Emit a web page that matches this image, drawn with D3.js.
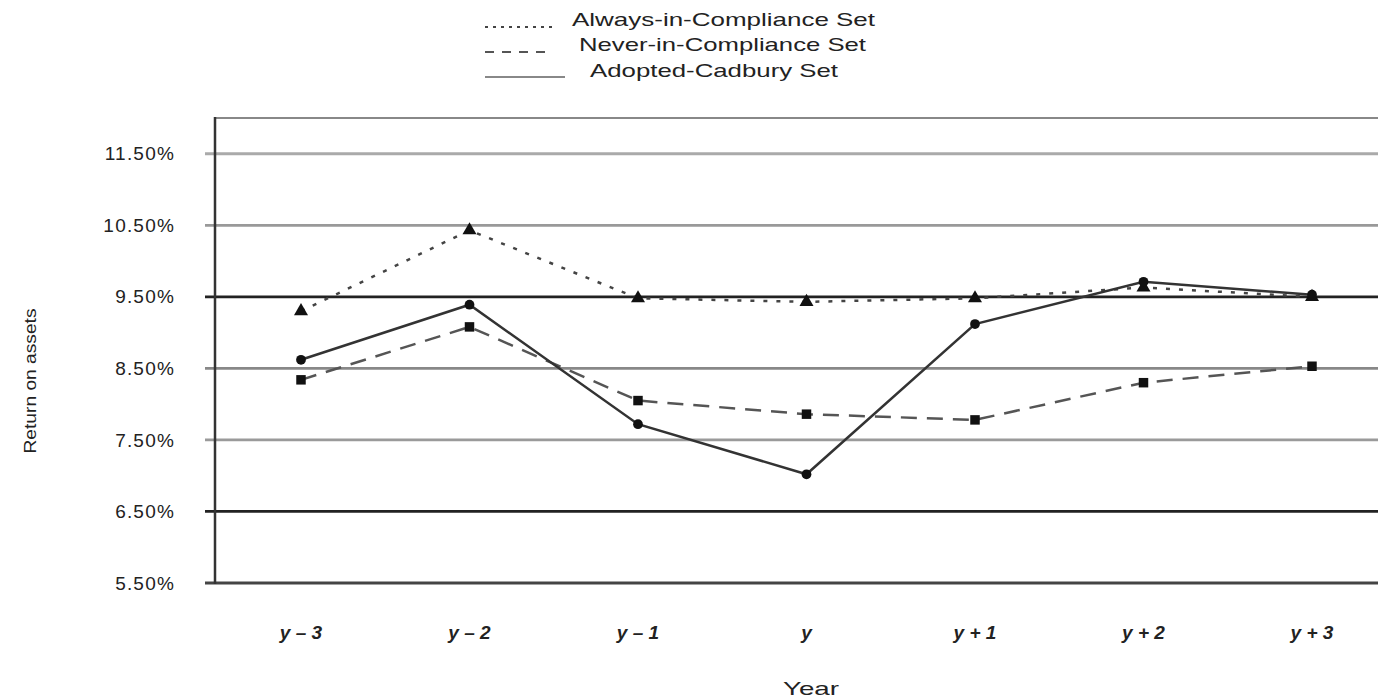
<!DOCTYPE html>
<html>
<head>
<meta charset="utf-8">
<script src="https://cdn.jsdelivr.net/npm/d3@7"></script>
<style>
  body { margin: 0; background: #fff; }
  svg text { font-family: "Liberation Sans", Arial, sans-serif; fill: #222; }
</style>
</head>
<body>
<div id="chart"></div>
<script>
const years = ["y – 3", "y – 2", "y – 1", "y", "y + 1", "y + 2", "y + 3"];
const yTicks = [5.5, 6.5, 7.5, 8.5, 9.5, 10.5, 11.5];
const alwaysSet = [9.30, 10.43, 9.48, 9.43, 9.48, 9.63, 9.50];
const neverSet = [8.34, 9.08, 8.05, 7.86, 7.78, 8.30, 8.53];
const adoptedSet = [8.62, 9.39, 7.72, 7.02, 9.12, 9.71, 9.53];
const seriesNames = ["Always-in-Compliance Set", "Never-in-Compliance Set", "Adopted-Cadbury Set"];

const width = 1378, height = 699;
const svg = d3.select("#chart").append("svg")
    .attr("width", width)
    .attr("height", height);

const x = d3.scalePoint().domain(years).range([301, 1312]);
const y = d3.scaleLinear().domain([5.5, 12]).range([583, 118]);
const axisX = 215;

// gridlines, alternating grey / black like the scan
const gridColor = { 11.5: "#aaa", 10.5: "#999", 9.5: "#222", 8.5: "#888", 7.5: "#9a9a9a", 6.5: "#222", 5.5: "#444" };
svg.append("g")
    .selectAll("line")
    .data(yTicks)
    .join("line")
    .attr("x1", axisX - 10)
    .attr("x2", width)
    .attr("y1", d => y(d))
    .attr("y2", d => y(d))
    .attr("stroke", d => gridColor[d])
    .attr("stroke-width", 2.8);

// top frame + left axis
svg.append("line")
    .attr("x1", axisX).attr("x2", width)
    .attr("y1", y(12)).attr("y2", y(12))
    .attr("stroke", "#888").attr("stroke-width", 2);
svg.append("line")
    .attr("x1", axisX).attr("x2", axisX)
    .attr("y1", y(12) - 1).attr("y2", y(5.5) + 1)
    .attr("stroke", "#333").attr("stroke-width", 2.5);

// y tick labels
const yAxis = d3.axisLeft(y).tickValues(yTicks).tickSize(0).tickPadding(40)
    .tickFormat(d => d3.format(".2f")(d) + "%");
svg.append("g")
    .attr("transform", `translate(${axisX},0)`)
    .call(yAxis)
    .call(g => g.select(".domain").remove())
    .selectAll("text")
    .style("font-family", "Liberation Sans, Arial, sans-serif")
    .style("font-size", "19px")
    .style("letter-spacing", "1.2px")
    .attr("fill", "#222");

// x tick labels
svg.append("g")
    .selectAll("text")
    .data(years)
    .join("text")
    .attr("x", d => x(d))
    .attr("y", 639)
    .attr("text-anchor", "middle")
    .style("font-size", "19px")
    .style("font-style", "italic")
    .style("font-weight", "bold")
    .attr("fill", "#333")
    .text(d => d);

// axis titles
svg.append("text")
    .attr("x", 811).attr("y", 695)
    .attr("text-anchor", "middle")
    .style("font-size", "19px")
    .attr("textLength", 56).attr("lengthAdjust", "spacingAndGlyphs")
    .text("Year");
svg.append("text")
    .attr("transform", "translate(36,381) rotate(-90)")
    .attr("text-anchor", "middle")
    .style("font-size", "17px")
    .attr("textLength", 145).attr("lengthAdjust", "spacingAndGlyphs")
    .text("Return on assets");

// series
const series = [
    { name: seriesNames[0], values: alwaysSet, dash: "4,9", color: "#444", symbol: d3.symbolTriangle, size: 85 },
    { name: seriesNames[1], values: neverSet, dash: "16,10", color: "#555", symbol: d3.symbolSquare, size: 90 },
    { name: seriesNames[2], values: adoptedSet, dash: null, color: "#333", symbol: d3.symbolCircle, size: 75 }
];

const line = d3.line()
    .x((d, i) => x(years[i]))
    .y(d => y(d));

series.forEach(s => {
    svg.append("path")
        .datum(s.values)
        .attr("fill", "none")
        .attr("stroke", s.color)
        .attr("stroke-width", 2.5)
        .attr("stroke-dasharray", s.dash)
        .attr("d", line);
    svg.append("g")
        .selectAll("path")
        .data(s.values)
        .join("path")
        .attr("transform", (d, i) => `translate(${x(years[i])},${y(d)})`)
        .attr("d", d3.symbol().type(s.symbol).size(s.size))
        .attr("fill", "#111");
});

// legend
const legendRows = [
    { y: 27, textX: 572, len: 303, ty: 26 },
    { y: 52, textX: 579, len: 287, ty: 51 },
    { y: 77, textX: 590, len: 248, ty: 77 }
];
series.forEach((s, i) => {
    const r = legendRows[i];
    svg.append("line")
        .attr("x1", 485).attr("x2", i === 2 ? 565 : 552)
        .attr("y1", r.y).attr("y2", r.y)
        .attr("stroke", i === 2 ? "#888" : s.color)
        .attr("stroke-width", 1.8)
        .attr("stroke-dasharray", i === 0 ? "3,5" : i === 1 ? "9,8" : null);
    svg.append("text")
        .attr("x", r.textX).attr("y", r.ty)
        .style("font-size", "19px")
        .attr("textLength", r.len).attr("lengthAdjust", "spacingAndGlyphs")
        .attr("fill", "#222")
        .text(s.name);
});
</script>
</body>
</html>
